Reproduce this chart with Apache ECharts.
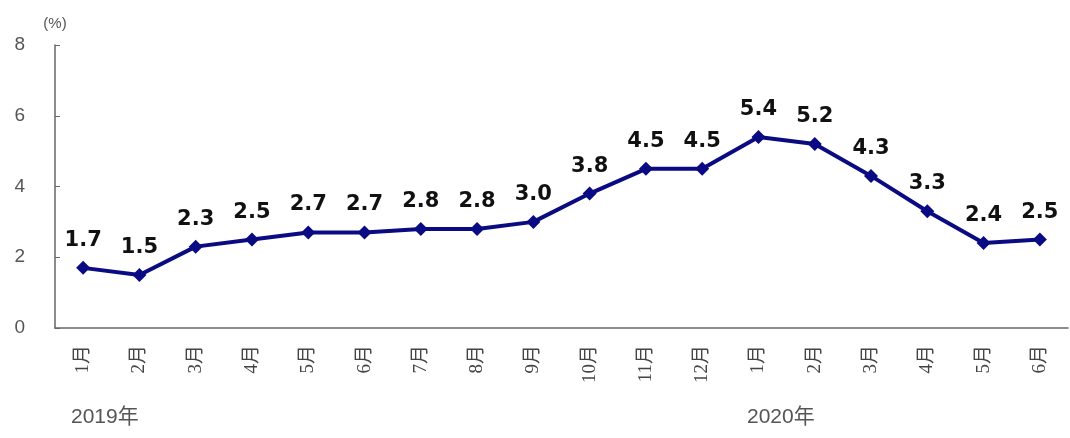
<!DOCTYPE html>
<html><head><meta charset="utf-8">
<script src="https://cdn.jsdelivr.net/npm/echarts@6/dist/echarts.min.js"></script>
<style>html,body{margin:0;padding:0;background:#fff}#c{width:1070px;height:438px}</style>
</head><body><div id="c"></div>
<script>
const categories = ['1月','2月','3月','4月','5月','6月','7月','8月','9月','10月','11月','12月','1月','2月','3月','4月','5月','6月'];
const values = [1.7,1.5,2.3,2.5,2.7,2.7,2.8,2.8,3.0,3.8,4.5,4.5,5.4,5.2,4.3,3.3,2.4,2.5];
const yearLabels = ['2019年','2020年'];
const yTicks = {min:0, max:8, interval:2};
const unitLabel = '(%)';

const chart = echarts.init(document.getElementById('c'));
chart.setOption({
  animation:false,
  backgroundColor:'#fff',
  grid:{left:55, right:2, top:45, bottom:110},
  xAxis:{
    type:'category', data:categories, boundaryGap:true,
    axisLine:{lineStyle:{color:'#666', width:1.5}},
    axisTick:{inside:true, length:5, lineStyle:{color:'#666'}},
    axisLabel:{rotate:90, margin:17, color:'#444', fontSize:19, fontFamily:'"Liberation Serif","DejaVu Serif","Noto Sans CJK SC",serif'}
  },
  yAxis:{
    type:'value', min:yTicks.min, max:yTicks.max, interval:yTicks.interval,
    name:unitLabel, nameLocation:'end', nameGap:14,
    nameTextStyle:{color:'#555', fontSize:15, align:'center'},
    splitLine:{show:false},
    axisLine:{show:true, lineStyle:{color:'#666', width:1.5}},
    axisTick:{show:true, inside:true, length:5, lineStyle:{color:'#666'}},
    axisLabel:{margin:30, color:'#555', fontSize:19, fontFamily:'"Liberation Sans",sans-serif'}
  },
  series:[{
    type:'line', data:values,
    lineStyle:{color:'#0a0a82', width:4},
    itemStyle:{color:'#0a0a82'},
    symbol:'diamond', symbolSize:14,
    label:{show:true, position:'top', distance:10, color:'#111', fontSize:21, fontWeight:'bold',
      fontFamily:'"DejaVu Sans",sans-serif',
      formatter:p=>p.value.toFixed(1)}
  }],
  graphic:[
    {type:'text', left:71, top:407, style:{text:yearLabels[0], fill:'#555', fontSize:21, fontFamily:'"Liberation Sans","Noto Sans CJK SC",sans-serif'}},
    {type:'text', left:747, top:407, style:{text:yearLabels[1], fill:'#555', fontSize:21, fontFamily:'"Liberation Sans","Noto Sans CJK SC",sans-serif'}}
  ]
});
</script></body></html>
